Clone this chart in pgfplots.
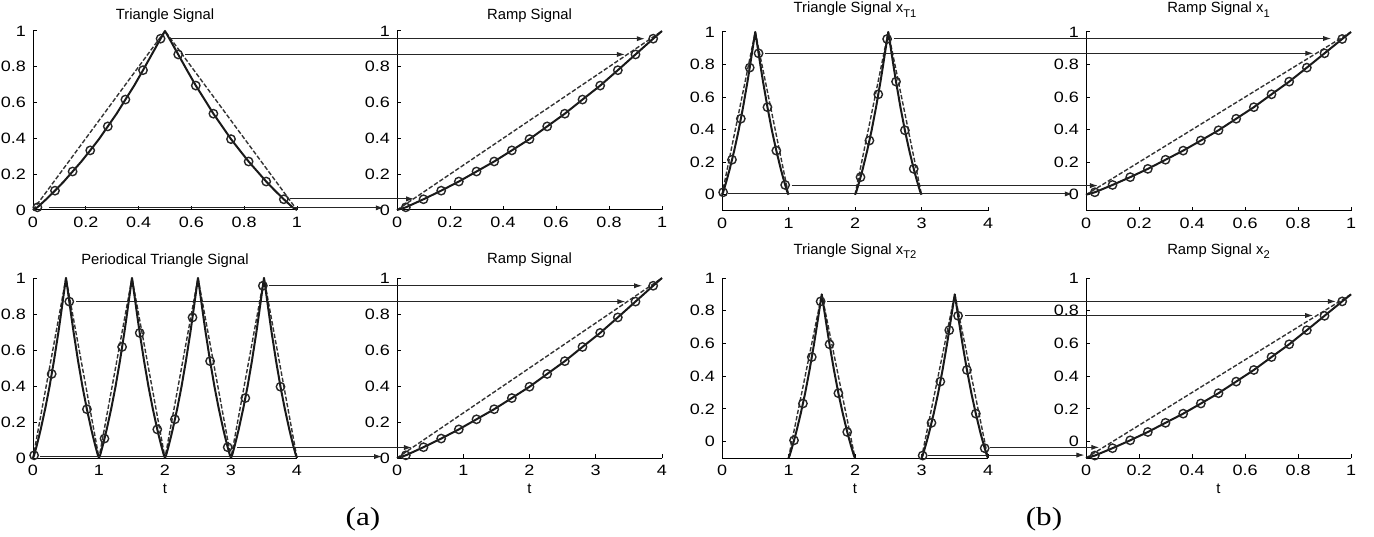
\documentclass[border=0pt]{standalone}
\usepackage{fontspec}
\setmainfont{Liberation Sans}
\newfontfamily\tickfont[FakeStretch=1.2]{Liberation Sans}
\newfontfamily\capfont[FakeStretch=1.2]{Liberation Serif}
\usepackage{pgfplots}
\usepackage{pgfplotstable}
\pgfplotsset{compat=1.18}
\usetikzlibrary{arrows.meta}

\newcommand\tfont{\fontsize{7.4}{8.5}\selectfont}
\newcommand\sub[1]{\raisebox{-2.3pt}{\fontsize{5.6}{6}\selectfont #1}}

% one period of the (solid) triangle signal
\pgfplotstableread{
t y
0 0
0.0167 0.015
0.05 0.06
0.0833 0.108
0.1167 0.159
0.15 0.215
0.1833 0.271
0.2167 0.333
0.25 0.396
0.2833 0.467
0.3167 0.538
0.35 0.617
0.3833 0.695
0.4167 0.781
0.45 0.869
0.4833 0.957
0.5 1
0.5167 0.957
0.55 0.869
0.5833 0.781
0.6167 0.695
0.65 0.617
0.6833 0.538
0.7167 0.467
0.75 0.396
0.7833 0.333
0.8167 0.271
0.85 0.215
0.8833 0.159
0.9167 0.108
0.95 0.06
0.9833 0.015
1 0
}\tri

% ramp signal (solid curve)
\pgfplotstableread{
x y
0 0
0.0333 0.015
0.1 0.06
0.1667 0.108
0.2333 0.159
0.3 0.215
0.3667 0.271
0.4333 0.333
0.5 0.396
0.5667 0.467
0.6333 0.538
0.7 0.617
0.7667 0.695
0.8333 0.781
0.9 0.869
0.9667 0.957
1 1
}\ramp

% ramp samples (markers)
\pgfplotstableread{
x y
0.0333 0.015
0.1 0.06
0.1667 0.108
0.2333 0.159
0.3 0.215
0.3667 0.271
0.4333 0.333
0.5 0.396
0.5667 0.467
0.6333 0.538
0.7 0.617
0.7667 0.695
0.8333 0.781
0.9 0.869
0.9667 0.957
}\rampmk

\pgfplotsset{
  every axis title/.style={font=\tfont, at={(0.5,1)}, anchor=base},
  sigax/.style={
    scale only axis, anchor=south west, clip=false,
    axis x line=bottom, axis y line=left,
    axis line style={-, line width=0.5pt, black},
    tick align=inside, major tick length=2pt,
    tick style={line width=0.5pt, black},
    enlargelimits=false,
    ymin=0, ymax=1, ytick={0,0.2,0.4,0.6,0.8,1},
    tick label style={font=\tickfont\fontsize{7.5}{8}\selectfont},
    /pgf/number format/assume math mode=true,
    xlabel style={font=\tfont, yshift=2.5pt},
  },
  sol/.style={black!90, line width=1pt, line join=round, no marks},
  dsh/.style={black!80, line width=0.7pt, line join=round, no marks, dash pattern=on 2.2pt off 1pt},
  mk/.style={only marks, mark=o, mark size=2.1pt, mark options={line width=0.7pt, black!85}},
  arr/.style={black!85, line width=0.5pt, no marks, -{Latex[length=4pt,width=2.6pt]}},
}

\begin{document}
\begin{tikzpicture}
\useasboundingbox (0,0) rectangle (687pt,268pt);

% ---------------- (a) top left: Triangle Signal
\begin{axis}[sigax, at={(16.5pt,163pt)}, width=132pt, height=89.5pt,
  xmin=0, xmax=1, xtick={0,0.2,0.4,0.6,0.8,1}, title={Triangle Signal},
  title style={yshift=5.5pt}]
\addplot[dsh] coordinates {(0,0) (0.5,1) (1,0)};
\addplot[sol] table[x=t,y=y] {\tri};
\addplot[mk] coordinates {(0.0167,0.015) (0.0833,0.108) (0.15,0.215) (0.2167,0.333)
 (0.2833,0.467) (0.35,0.617) (0.4167,0.781) (0.4833,0.957) (0.55,0.869) (0.6167,0.695)
 (0.6833,0.538) (0.75,0.396) (0.8167,0.271) (0.8833,0.159) (0.95,0.06)};
\end{axis}

% ---------------- (a) top right: Ramp Signal
\begin{axis}[sigax, at={(198.5pt,163pt)}, width=132.5pt, height=89.5pt,
  xmin=0, xmax=1, xtick={0,0.2,0.4,0.6,0.8,1}, title={Ramp Signal},
  title style={yshift=5.5pt}]
\addplot[dsh] coordinates {(0,0) (1,1)};
\addplot[sol] table[x=x,y=y] {\ramp};
\addplot[mk] table[x=x,y=y] {\rampmk};
\addplot[arr] coordinates {(-0.856,0.957) (0.935,0.957)};
\addplot[arr] coordinates {(-0.8,0.869) (0.86,0.869)};
\addplot[arr] coordinates {(-0.402,0.062) (0.065,0.062)};
\addplot[arr] coordinates {(-1.3147,0.012) (-0.05,0.012)};
\end{axis}

% ---------------- (a) bottom left: Periodical Triangle Signal
\begin{axis}[sigax, at={(16.5pt,39pt)}, width=132pt, height=90pt,
  xmin=0, xmax=4, xtick={0,1,2,3,4}, title={Periodical Triangle Signal},
  title style={yshift=7pt}, xlabel={t}]
\addplot[dsh] coordinates {(0,0) (0.5,1) (1,0) (1.5,1) (2,0) (2.5,1) (3,0) (3.5,1) (4,0)};
\addplot[sol] table[x=t,y=y] {\tri};
\addplot[sol] table[x expr=\thisrow{t}+1,y=y] {\tri};
\addplot[sol] table[x expr=\thisrow{t}+2,y=y] {\tri};
\addplot[sol] table[x expr=\thisrow{t}+3,y=y] {\tri};
\addplot[mk] coordinates {(0.017,0.015) (0.283,0.467) (0.55,0.869) (0.817,0.271)
 (1.083,0.108) (1.35,0.617) (1.617,0.695) (1.883,0.159) (2.15,0.215) (2.417,0.781)
 (2.683,0.538) (2.95,0.06) (3.217,0.333) (3.483,0.957) (3.75,0.396)};
\end{axis}

% ---------------- (a) bottom right: Ramp Signal
\begin{axis}[sigax, at={(198.5pt,39pt)}, width=132.5pt, height=90pt,
  xmin=0, xmax=4, xtick={0,1,2,3,4}, title={Ramp Signal},
  title style={yshift=7.5pt}, xlabel={t}]
\addplot[dsh] coordinates {(0,0) (4,1)};
\addplot[sol] table[x expr=4*\thisrow{x},y=y] {\ramp};
\addplot[mk] table[x expr=4*\thisrow{x},y=y] {\rampmk};
\addplot[arr] coordinates {(-1.938,0.957) (3.70,0.957)};
\addplot[arr] coordinates {(-4.843,0.869) (3.447,0.869)};
\addplot[arr] coordinates {(-2.412,0.058) (0.226,0.058)};
\addplot[arr] coordinates {(-5.395,0.008) (-0.226,0.008)};
\end{axis}

% ---------------- (b) top left: Triangle Signal x_T1
\begin{axis}[sigax, at={(361pt,162.5pt)}, width=133pt, height=89.5pt,
  xmin=0, xmax=4, xtick={0,1,2,3,4}, ymin=-0.1,
  title={Triangle Signal x\sub{T1}}, title style={yshift=9.7pt}]
\addplot[dsh] coordinates {(0,0) (0.5,1) (1,0)};
\addplot[dsh] coordinates {(2,0) (2.5,1) (3,0)};
\addplot[sol] table[x=t,y=y] {\tri};
\addplot[sol] table[x expr=\thisrow{t}+2,y=y] {\tri};
\addplot[mk] coordinates {(0.017,0.015) (0.15,0.215) (0.283,0.467) (0.417,0.781)
 (0.55,0.869) (0.683,0.538) (0.817,0.271) (0.95,0.06) (2.083,0.108) (2.217,0.333)
 (2.35,0.617) (2.483,0.957) (2.617,0.695) (2.75,0.396) (2.883,0.159)};
\end{axis}

% ---------------- (b) top right: Ramp Signal x_1
\begin{axis}[sigax, at={(543pt,162.5pt)}, width=132.5pt, height=89.5pt,
  xmin=0, xmax=1, xtick={0,0.2,0.4,0.6,0.8,1}, ymin=-0.1,
  title={Ramp Signal x\sub{1}}, title style={yshift=9.7pt}]
\addplot[dsh] coordinates {(0,0) (1,1)};
\addplot[sol] table[x=x,y=y] {\ramp};
\addplot[mk] table[x=x,y=y] {\rampmk};
\addplot[arr] coordinates {(-0.724,0.96) (0.925,0.96)};
\addplot[arr] coordinates {(-1.212,0.869) (0.858,0.869)};
\addplot[arr] coordinates {(-1.111,0.056) (0.045,0.056)};
\addplot[arr] coordinates {(-1.351,0.005) (-0.05,0.005)};
\end{axis}

% ---------------- (b) bottom left: Triangle Signal x_T2
\begin{axis}[sigax, at={(361pt,39pt)}, width=133pt, height=90pt,
  xmin=0, xmax=4, xtick={0,1,2,3,4}, ymin=-0.1,
  title={Triangle Signal x\sub{T2}}, title style={yshift=12pt}, xlabel={t}]
\addplot[dsh] coordinates {(1,-0.1) (1.5,0.9) (2,-0.1)};
\addplot[dsh] coordinates {(3,-0.1) (3.5,0.9) (4,-0.1)};
\addplot[sol] table[x expr=\thisrow{t}+1,y expr=\thisrow{y}-0.1] {\tri};
\addplot[sol] table[x expr=\thisrow{t}+3,y expr=\thisrow{y}-0.1] {\tri};
\addplot[mk] coordinates {(1.083,0.008) (1.217,0.233) (1.35,0.517) (1.483,0.857)
 (1.617,0.595) (1.75,0.296) (1.883,0.059) (3.017,-0.085) (3.15,0.115) (3.283,0.367)
 (3.417,0.681) (3.55,0.769) (3.683,0.438) (3.817,0.171) (3.95,-0.04)};
\end{axis}

% ---------------- (b) bottom right: Ramp Signal x_2
\begin{axis}[sigax, at={(543pt,39pt)}, width=132.5pt, height=90pt,
  xmin=0, xmax=1, xtick={0,0.2,0.4,0.6,0.8,1}, ymin=-0.1,
  title={Ramp Signal x\sub{2}}, title style={yshift=12pt}, xlabel={t}]
\addplot[dsh] coordinates {(0,-0.1) (1,0.9)};
\addplot[sol] table[x=x,y expr=\thisrow{y}-0.1] {\ramp};
\addplot[mk] table[x=x,y expr=\thisrow{y}-0.1] {\rampmk};
\addplot[arr] coordinates {(-0.976,0.857) (0.943,0.857)};
\addplot[arr] coordinates {(-0.456,0.771) (0.857,0.771)};
\addplot[arr] coordinates {(-0.364,-0.035) (0.05,-0.035)};
\addplot[arr] coordinates {(-0.598,-0.082) (-0.006,-0.082)};
\end{axis}

\node[anchor=base, font=\capfont\fontsize{13}{14}\selectfont] at (181.5pt,5.5pt) {(a)};
\node[anchor=base, font=\capfont\fontsize{13}{14}\selectfont] at (522pt,5.5pt) {(b)};
\end{tikzpicture}
\end{document}
